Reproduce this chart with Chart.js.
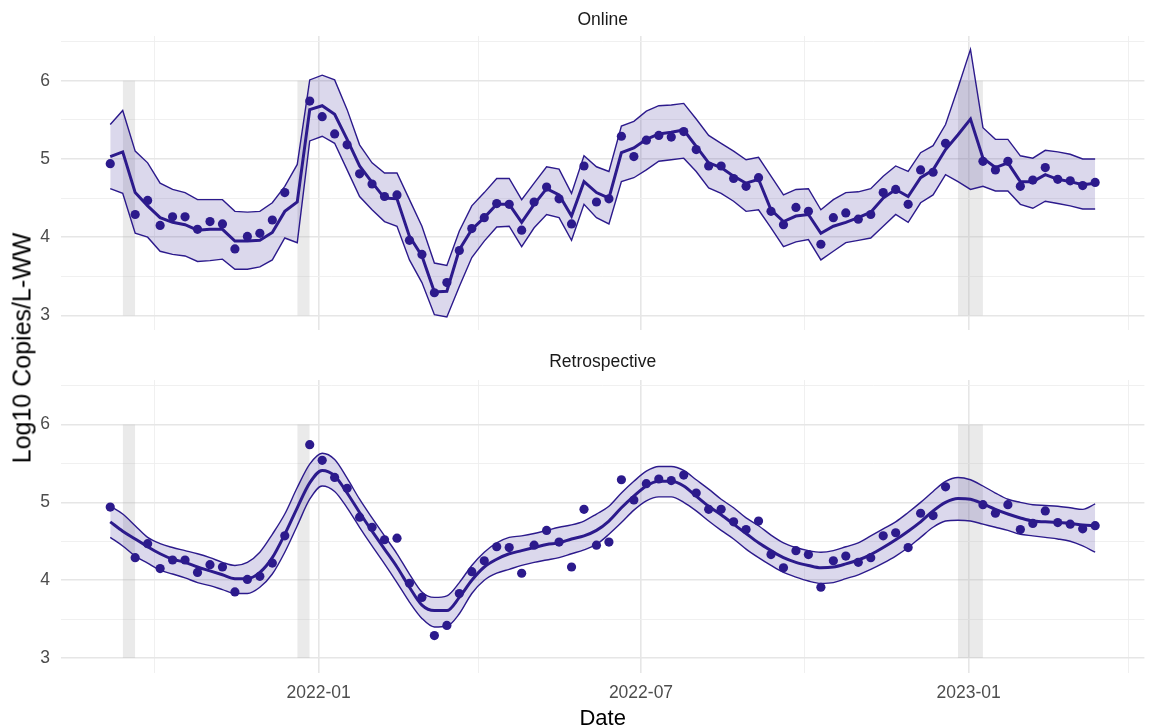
<!DOCTYPE html>
<html>
<head>
<meta charset="utf-8">
<title>Online vs Retrospective</title>
<script src="https://cdn.jsdelivr.net/npm/chart.js@4.4.1/dist/chart.umd.min.js"></script>
<style>
    body { margin: 0; background: #fff; }
    #wrap { position: relative; width: 1149px; height: 728px; font-family: 'Liberation Sans', Arial, sans-serif; }
    #topBox { position: absolute; left: 0; top: 0; }
    #bottomBox { position: absolute; left: 0; top: 340px; }
    #yTitle {
        position: absolute; left: 22px; top: 348px;
        transform: translate(-50%, -50%) rotate(-90deg);
        font-size: 25px; color: #000; white-space: nowrap;
    }
</style>
</head>
<body>
<div id="wrap">
    <div id="topBox"><canvas id="onlineChart" width="1149" height="335"></canvas></div>
    <div id="bottomBox"><canvas id="retroChart" width="1149" height="388"></canvas></div>
    <div id="yTitle">Log10 Copies/L-WW</div>
</div>
<script>
// Weekly sample dates
const weekDates = [
    '2021-09-06', '2021-09-13', '2021-09-20', '2021-09-27', '2021-10-04', '2021-10-11', '2021-10-18', '2021-10-25',
    '2021-11-01', '2021-11-08', '2021-11-15', '2021-11-22', '2021-11-29', '2021-12-06', '2021-12-13', '2021-12-20',
    '2021-12-27', '2022-01-03', '2022-01-10', '2022-01-17', '2022-01-24', '2022-01-31', '2022-02-07', '2022-02-14',
    '2022-02-21', '2022-02-28', '2022-03-07', '2022-03-14', '2022-03-21', '2022-03-28', '2022-04-04', '2022-04-11',
    '2022-04-18', '2022-04-25', '2022-05-02', '2022-05-09', '2022-05-16', '2022-05-23', '2022-05-30', '2022-06-06',
    '2022-06-13', '2022-06-20', '2022-06-27', '2022-07-04', '2022-07-11', '2022-07-18', '2022-07-25', '2022-08-01',
    '2022-08-08', '2022-08-15', '2022-08-22', '2022-08-29', '2022-09-05', '2022-09-12', '2022-09-19', '2022-09-26',
    '2022-10-03', '2022-10-10', '2022-10-17', '2022-10-24', '2022-10-31', '2022-11-07', '2022-11-14', '2022-11-21',
    '2022-11-28', '2022-12-05', '2022-12-12', '2022-12-19', '2022-12-26', '2023-01-02', '2023-01-09', '2023-01-16',
    '2023-01-23', '2023-01-30', '2023-02-06', '2023-02-13', '2023-02-20', '2023-02-27', '2023-03-06', '2023-03-13'
];

// Observed log10 concentrations (null = no sample)
const observed = [
    4.94, null, 4.29, 4.47, 4.15, 4.26, 4.26, 4.10, 4.20, 4.17, 3.85, 4.01, 4.05, 4.22, 4.57, null,
    5.74, 5.54, 5.32, 5.18, 4.81, 4.68, 4.52, 4.54, 3.96, 3.78, 3.29, 3.42, 3.83, 4.11, 4.25, 4.43,
    4.42, 4.09, 4.45, 4.64, 4.49, 4.17, 4.91, 4.45, 4.49, 5.29, 5.03, 5.24, 5.30, 5.28, 5.35, 5.12,
    4.91, 4.91, 4.75, 4.65, 4.76, 4.33, 4.16, 4.38, 4.33, 3.91, 4.25, 4.31, 4.23, 4.29, 4.57, 4.61,
    4.42, 4.86, 4.83, 5.20, null, null, 4.97, 4.86, 4.97, 4.65, 4.73, 4.89, 4.74, 4.72, 4.66, 4.70
];

// Online estimates
const onlineMedian = [
    5.03, 5.09, 4.57, 4.40, 4.25, 4.19, 4.16, 4.09, 4.10, 4.10, 3.95, 3.95, 3.96, 4.06, 4.33, 4.45,
    5.63, 5.68, 5.57, 5.25, 4.91, 4.70, 4.50, 4.49, 4.01, 3.76, 3.30, 3.31, 3.84, 4.10, 4.25, 4.42,
    4.42, 4.19, 4.42, 4.62, 4.54, 4.27, 4.71, 4.57, 4.50, 5.08, 5.14, 5.25, 5.32, 5.34, 5.37, 5.16,
    4.95, 4.89, 4.78, 4.69, 4.74, 4.35, 4.20, 4.27, 4.29, 4.05, 4.14, 4.19, 4.25, 4.32, 4.50, 4.61,
    4.52, 4.76, 4.86, 5.12, 5.31, 5.51, 5.01, 4.89, 4.95, 4.71, 4.71, 4.80, 4.74, 4.71, 4.67, 4.69
];
const onlineUpper = [
    5.44, 5.62, 5.10, 4.95, 4.69, 4.61, 4.57, 4.48, 4.48, 4.48, 4.33, 4.32, 4.33, 4.44, 4.65, 4.93,
    6.01, 6.07, 6.01, 5.63, 5.18, 4.95, 4.82, 4.82, 4.48, 4.14, 3.67, 3.64, 4.08, 4.40, 4.57, 4.75,
    4.75, 4.48, 4.69, 4.90, 4.87, 4.56, 5.04, 4.90, 4.84, 5.42, 5.48, 5.61, 5.68, 5.69, 5.71, 5.51,
    5.30, 5.20, 5.10, 4.99, 5.02, 4.78, 4.54, 4.61, 4.62, 4.35, 4.48, 4.57, 4.58, 4.62, 4.78, 4.91,
    4.84, 5.08, 5.17, 5.44, 5.91, 6.40, 5.40, 5.25, 5.25, 5.04, 5.01, 5.11, 5.09, 5.06, 5.00, 5.00
];
const onlineLower = [
    4.62, 4.56, 4.05, 4.00, 3.82, 3.78, 3.76, 3.69, 3.70, 3.72, 3.59, 3.59, 3.62, 3.71, 3.99, 3.93,
    5.23, 5.29, 5.20, 4.86, 4.52, 4.35, 4.20, 4.14, 3.71, 3.42, 3.01, 2.98, 3.37, 3.74, 3.95, 4.13,
    4.14, 3.88, 4.12, 4.29, 4.25, 3.96, 4.42, 4.25, 4.17, 4.71, 4.76, 4.86, 4.97, 4.99, 5.01, 4.84,
    4.63, 4.56, 4.46, 4.33, 4.35, 4.12, 3.88, 3.94, 3.97, 3.71, 3.82, 3.93, 3.96, 3.99, 4.14, 4.29,
    4.19, 4.44, 4.54, 4.80, 4.71, 4.61, 4.65, 4.59, 4.59, 4.42, 4.37, 4.46, 4.43, 4.40, 4.36, 4.36
];

// Retrospective estimates
const retroMedian = [
    4.75, 4.63, 4.53, 4.43, 4.34, 4.27, 4.23, 4.17, 4.12, 4.07, 4.02, 4.02, 4.10, 4.29, 4.59, 4.93,
    5.25, 5.41, 5.34, 5.12, 4.87, 4.63, 4.40, 4.17, 3.91, 3.68, 3.61, 3.61, 3.78, 4.00, 4.17, 4.27,
    4.34, 4.38, 4.42, 4.46, 4.48, 4.53, 4.57, 4.64, 4.76, 4.93, 5.08, 5.21, 5.27, 5.27, 5.21, 5.08,
    4.95, 4.84, 4.72, 4.60, 4.48, 4.38, 4.29, 4.23, 4.19, 4.16, 4.17, 4.21, 4.26, 4.33, 4.42, 4.52,
    4.63, 4.75, 4.89, 5.00, 5.05, 5.04, 4.98, 4.91, 4.85, 4.80, 4.76, 4.75, 4.74, 4.73, 4.71, 4.70
];
const retroUpper = [
    4.95, 4.85, 4.70, 4.55, 4.47, 4.42, 4.38, 4.34, 4.29, 4.23, 4.19, 4.23, 4.36, 4.59, 4.85, 5.19,
    5.49, 5.63, 5.55, 5.31, 5.04, 4.80, 4.57, 4.34, 4.08, 3.85, 3.78, 3.80, 3.97, 4.19, 4.36, 4.48,
    4.55, 4.57, 4.60, 4.64, 4.68, 4.71, 4.76, 4.85, 4.95, 5.12, 5.27, 5.40, 5.46, 5.46, 5.41, 5.29,
    5.17, 5.04, 4.93, 4.80, 4.70, 4.58, 4.48, 4.42, 4.38, 4.36, 4.38, 4.43, 4.48, 4.57, 4.66, 4.75,
    4.87, 5.00, 5.14, 5.27, 5.32, 5.29, 5.21, 5.12, 5.04, 5.00, 4.97, 4.96, 4.95, 4.93, 4.91, 4.98
];
const retroLower = [
    4.55, 4.44, 4.31, 4.22, 4.13, 4.08, 4.03, 3.97, 3.93, 3.88, 3.83, 3.83, 3.91, 4.08, 4.36, 4.70,
    5.04, 5.21, 5.14, 4.93, 4.68, 4.44, 4.21, 3.97, 3.72, 3.51, 3.40, 3.41, 3.57, 3.83, 4.00, 4.09,
    4.14, 4.19, 4.23, 4.26, 4.29, 4.34, 4.39, 4.46, 4.59, 4.74, 4.90, 5.02, 5.07, 5.07, 5.00, 4.89,
    4.76, 4.64, 4.53, 4.40, 4.29, 4.19, 4.10, 4.04, 3.99, 3.96, 3.97, 4.02, 4.07, 4.14, 4.22, 4.31,
    4.42, 4.55, 4.68, 4.76, 4.77, 4.76, 4.72, 4.68, 4.64, 4.59, 4.57, 4.55, 4.53, 4.50, 4.44, 4.36
];

// Missed-sample bands (start, end) and their vertical span
const gapBands = [
    ['2021-09-13', '2021-09-20'],
    ['2021-12-20', '2021-12-27'],
    ['2022-12-26', '2023-01-09']
];
const bandSpan = [3, 6];

// Axis ticks
const majorDateTicks = ['2022-01-01', '2022-07-01', '2023-01-01'];
const minorDateTicks = ['2021-10-01', '2022-04-01', '2022-10-01', '2023-04-01'];
const yMajorTicks = [3, 4, 5, 6];
const yMinorTicks = [3.5, 4.5, 5.5, 6.5];

const FONT = "'Liberation Sans', Arial, sans-serif";
const LINE = '#2c1a8c';
const RIBBON = 'rgba(44, 26, 140, 0.17)';
const BAND = 'rgba(185, 185, 185, 0.3)';

const toDay = s => Date.parse(s) / 86400000;
const xDays = weekDates.map(toDay);
const majorDays = majorDateTicks.map(toDay);
const minorDays = minorDateTicks.map(toDay);

function series(values) {
    return values.map((v, i) => ({ x: xDays[i], y: v }));
}

// ggplot-style 5% expansion of the data range
const xSpan = xDays[xDays.length - 1] - xDays[0];
const xMin = xDays[0] - 0.05 * xSpan;
const xMax = xDays[xDays.length - 1] + 0.05 * xSpan;
const allLow = [...onlineLower, ...retroLower, ...observed.filter(v => v !== null)];
const allHigh = [...onlineUpper, ...retroUpper, ...observed.filter(v => v !== null)];
const yLo = Math.min(...allLow), yHi = Math.max(...allHigh);
const yMin = yLo - 0.05 * (yHi - yLo);
const yMax = yHi + 0.05 * (yHi - yLo);

function monthLabel(day) {
    const d = new Date(day * 86400000);
    return d.getUTCFullYear() + '-' + String(d.getUTCMonth() + 1).padStart(2, '0');
}

function makePanel(ctx, title, median, lower, upper, isBottom, titlePad) {
    const smooth = isBottom ? 'monotone' : 'default';
    const datasets = gapBands.map(b => ({
        data: [{ x: toDay(b[0]), y: bandSpan[1] }, { x: toDay(b[1]), y: bandSpan[1] }],
        fill: { value: bandSpan[0] },
        backgroundColor: BAND,
        borderWidth: 0,
        pointRadius: 0,
        order: 10
    }));
    datasets.push({
        data: series(upper),
        borderColor: LINE,
        borderWidth: 1.4,
        backgroundColor: RIBBON,
        fill: '+1',
        pointRadius: 0,
        cubicInterpolationMode: smooth,
        order: 5
    });
    datasets.push({
        data: series(lower),
        borderColor: LINE,
        borderWidth: 1.4,
        fill: false,
        pointRadius: 0,
        cubicInterpolationMode: smooth,
        order: 4
    });
    datasets.push({
        data: series(median),
        borderColor: LINE,
        borderWidth: 3,
        fill: false,
        pointRadius: 0,
        cubicInterpolationMode: smooth,
        order: 2
    });
    datasets.push({
        data: series(observed),
        showLine: false,
        pointRadius: 4.6,
        pointBackgroundColor: LINE,
        pointBorderWidth: 0,
        order: 1
    });

    return new Chart(ctx, {
        type: 'line',
        data: { datasets: datasets },
        options: {
            responsive: false,
            animation: false,
            layout: { padding: { left: 0, right: 3, top: 0, bottom: 0 } },
            plugins: {
                legend: { display: false },
                tooltip: { enabled: false },
                title: {
                    display: true,
                    text: title,
                    fullSize: false,
                    color: '#1a1a1a',
                    font: { family: FONT, size: 17.5, weight: 'normal' },
                    padding: titlePad
                }
            },
            scales: {
                x: {
                    type: 'linear',
                    min: xMin,
                    max: xMax,
                    afterBuildTicks: s => {
                        s.ticks = [...minorDays, ...majorDays].sort((a, b) => a - b).map(v => ({ value: v }));
                    },
                    afterFit: s => {
                        s.height = isBottom ? 55 : 0;
                        s.paddingLeft = 0;
                        s.paddingRight = 0;
                    },
                    border: { display: false },
                    grid: {
                        drawTicks: false,
                        color: c => majorDays.includes(c.tick && c.tick.value) ? '#e6e6e6' : '#eeeeee',
                        lineWidth: c => majorDays.includes(c.tick && c.tick.value) ? 1.6 : 0.9
                    },
                    ticks: {
                        display: isBottom,
                        autoSkip: false,
                        maxRotation: 0,
                        padding: 10,
                        color: '#4d4d4d',
                        font: { family: FONT, size: 17.5 },
                        callback: v => majorDays.includes(v) ? monthLabel(v) : ''
                    },
                    title: {
                        display: isBottom,
                        text: 'Date',
                        color: '#000',
                        font: { family: FONT, size: 22, lineHeight: 0.8 },
                        padding: { top: 0, bottom: 0 }
                    }
                },
                y: {
                    min: yMin,
                    max: yMax,
                    afterBuildTicks: s => {
                        s.ticks = [...yMajorTicks, ...yMinorTicks].sort((a, b) => a - b).map(v => ({ value: v }));
                    },
                    afterFit: s => {
                        s.width = 61;
                        s.paddingTop = 0;
                        s.paddingBottom = 0;
                    },
                    border: { display: false },
                    grid: {
                        drawTicks: false,
                        color: c => yMajorTicks.includes(c.tick && c.tick.value) ? '#e6e6e6' : '#eeeeee',
                        lineWidth: c => yMajorTicks.includes(c.tick && c.tick.value) ? 1.6 : 0.9
                    },
                    ticks: {
                        autoSkip: false,
                        padding: 11,
                        color: '#4d4d4d',
                        font: { family: FONT, size: 17.5 },
                        callback: v => yMajorTicks.includes(v) ? String(v) : ''
                    }
                }
            }
        }
    });
}

document.addEventListener('DOMContentLoaded', () => {
    makePanel(document.getElementById('onlineChart').getContext('2d'), 'Online',
        onlineMedian, onlineLower, onlineUpper, false, { top: 10, bottom: 5 });
    makePanel(document.getElementById('retroChart').getContext('2d'), 'Retrospective',
        retroMedian, retroLower, retroUpper, true, { top: 12, bottom: 7 });
});
</script>
</body>
</html>
